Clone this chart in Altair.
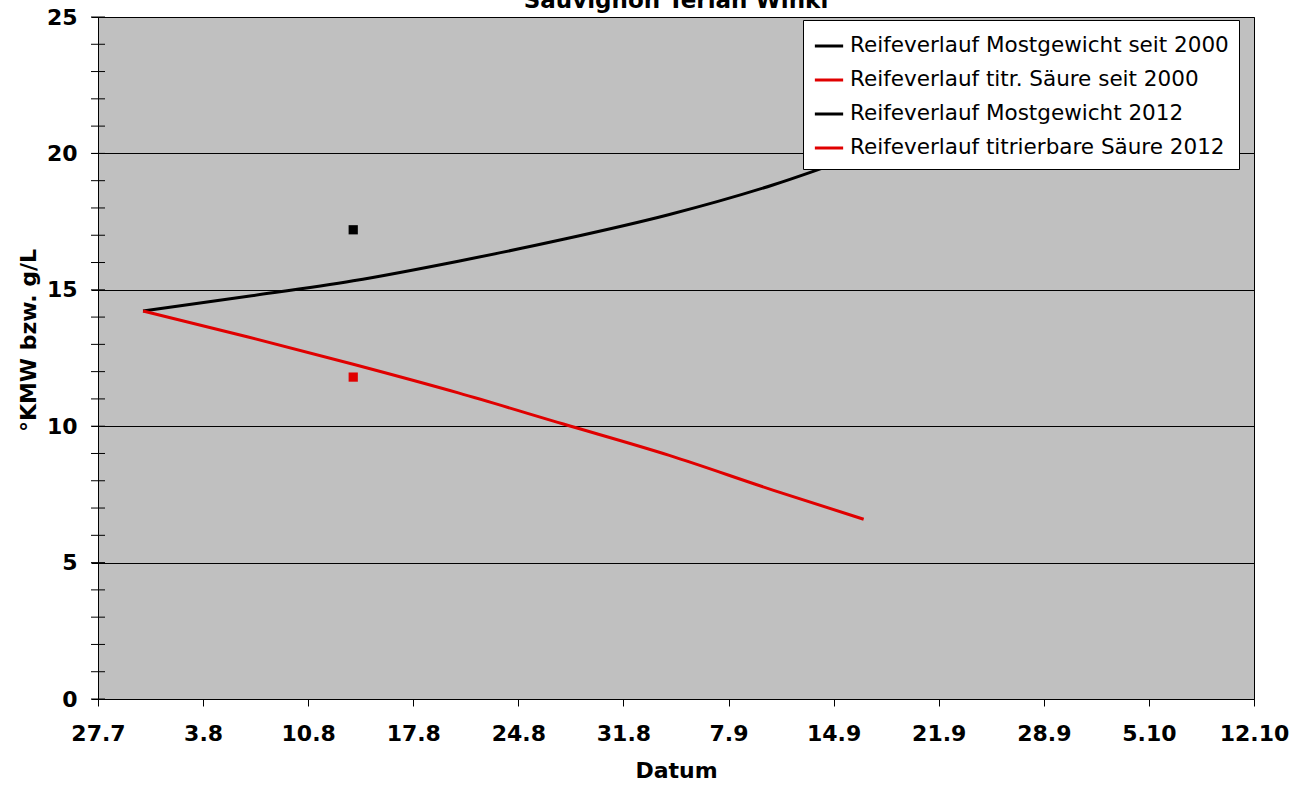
import altair as alt
import pandas as pd

# ---- data ----
curve_dates = ["2012-07-30", "2012-08-06", "2012-08-13", "2012-08-20", "2012-08-27",
               "2012-09-03", "2012-09-10", "2012-09-16"]
most_seit2000 = [14.22, 14.76, 15.33, 16.05, 16.85, 17.75, 18.85, 20.0]
saeure_seit2000 = [14.22, 13.27, 12.27, 11.22, 10.08, 8.94, 7.65, 6.59]

pt_dates = ["2012-08-13", "2012-08-13"]
pt_values = [17.2, 11.8]

series_names = ["Reifeverlauf Mostgewicht seit 2000",
                "Reifeverlauf titr. Säure seit 2000",
                "Reifeverlauf Mostgewicht 2012",
                "Reifeverlauf titrierbare Säure 2012"]
series_colors = ["#000000", "#E00000", "#000000", "#E00000"]
series_widths = [3, 3, 4, 4]

tick_dates = [(2012, 7, 27), (2012, 8, 3), (2012, 8, 10), (2012, 8, 17), (2012, 8, 24),
              (2012, 8, 31), (2012, 9, 7), (2012, 9, 14), (2012, 9, 21), (2012, 9, 28),
              (2012, 10, 5), (2012, 10, 12)]
y_major = [0, 5, 10, 15, 20, 25]
y_minor = list(range(0, 26))

FONT = "DejaVu Sans"

lines_df = pd.DataFrame({
    "date": curve_dates * 2,
    "value": most_seit2000 + saeure_seit2000,
    "series": [series_names[0]] * len(curve_dates) + [series_names[1]] * len(curve_dates),
})
pts_df = pd.DataFrame({"date": pt_dates, "value": pt_values,
                       "series": [series_names[2], series_names[3]]})

x_domain = [alt.DateTime(year=2012, month=7, date=27, utc=True),
            alt.DateTime(year=2012, month=10, date=12, utc=True)]
x_values = [alt.DateTime(year=y, month=m, date=d, utc=True) for (y, m, d) in tick_dates]
x_scale = alt.Scale(type="utc", domain=x_domain, nice=False)

x_axis = alt.Axis(values=x_values, format="%-d.%-m", title="Datum",
                  grid=False, tickSize=7, labelPadding=17,
                  labelFont=FONT, labelFontSize=22, labelFontWeight="bold",
                  labelColor="black", labelFlush=False, labelOverlap=False,
                  titleFont=FONT, titleFontSize=22, titleFontWeight="bold",
                  titleColor="black", titlePadding=16,
                  domainColor="black", tickColor="black")
y_scale = alt.Scale(domain=[0, 25], nice=False)
y_axis = alt.Axis(values=y_major, title="°KMW bzw. g/L",
                  grid=True, gridColor="black", gridWidth=1, gridOpacity=1,
                  tickSize=7, labelPadding=14,
                  labelFont=FONT, labelFontSize=22, labelFontWeight="bold",
                  labelColor="black",
                  titleFont=FONT, titleFontSize=22, titleFontWeight="bold",
                  titleColor="black", titleX=-70, titleY=323,
                  titleAngle=270, titleBaseline="middle", titleAlign="center",
                  domainColor="black", tickColor="black")

color_scale = alt.Scale(domain=series_names, range=series_colors)
width_scale = alt.Scale(domain=series_names, range=series_widths)

minor_df = pd.DataFrame({"value": y_minor})
minor = alt.Chart(minor_df).mark_rule(color="black", strokeWidth=1).encode(
    y=alt.Y("value:Q", scale=y_scale, axis=y_axis),
    x=alt.value(-7),
    x2=alt.value(7),
)

lines = alt.Chart(lines_df).mark_line(interpolate="monotone", strokeWidth=3, clip=True).encode(
    x=alt.X("date:T", scale=x_scale, axis=x_axis),
    y=alt.Y("value:Q", scale=y_scale, axis=y_axis),
    color=alt.Color("series:N", scale=color_scale,
                    legend=alt.Legend(title=None, orient="none", legendX=705, legendY=3,
                                      symbolType="stroke", symbolSize=800,
                                      symbolStrokeWidth=3,
                                      labelFont=FONT, labelFontSize=21.5, labelColor="black",
                                      labelLimit=600, labelOffset=5, rowPadding=7,
                                      padding=10, fillColor="white", strokeColor="black",
                                      cornerRadius=0)),
    strokeWidth=alt.StrokeWidth("series:N", scale=width_scale, legend=None),
)

points = alt.Chart(pts_df).mark_square(size=85, opacity=1).encode(
    x=alt.X("date:T", scale=x_scale, axis=x_axis),
    y=alt.Y("value:Q", scale=y_scale, axis=y_axis),
    color=alt.Color("series:N", scale=color_scale, legend=None),
)

chart = alt.layer(minor, lines, points).properties(
    width=1156, height=682,
    title=alt.TitleParams("Sauvignon Terlan Winkl", font=FONT, fontSize=23,
                          fontWeight="bold", color="black", anchor="middle",
                          baseline="alphabetic", offset=0, dy=25, frame="group"),
    autosize=alt.AutoSizeParams(type="none"),
    padding={"left": 98, "top": 17, "right": 56, "bottom": 89},
).configure_view(
    fill="#C0C0C0", stroke="black", strokeWidth=1
)

chart.save("out.html", embed_options={"renderer": "svg", "actions": False})
